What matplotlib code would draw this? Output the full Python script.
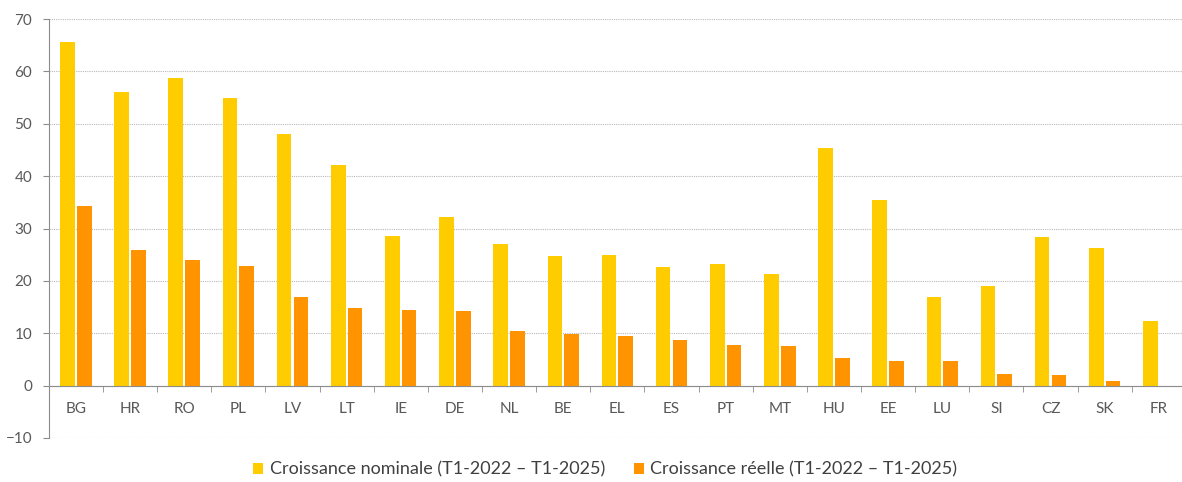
import numpy as np
import matplotlib
matplotlib.use("Agg")
import matplotlib.pyplot as plt
from matplotlib.ticker import FixedLocator, MultipleLocator

# Données
pays = ['BG', 'HR', 'RO', 'PL', 'LV', 'LT', 'IE', 'DE', 'NL', 'BE', 'EL',
        'ES', 'PT', 'MT', 'HU', 'EE', 'LU', 'SI', 'CZ', 'SK', 'FR']
nominale = [65.7, 56.0, 58.8, 55.0, 48.0, 42.2, 28.5, 32.2, 27.1, 24.8, 25.0,
            22.6, 23.2, 21.3, 45.4, 35.5, 16.9, 19.0, 28.4, 26.3, 12.4]
reelle = [34.4, 26.0, 24.0, 22.8, 17.0, 14.8, 14.4, 14.3, 10.4, 9.8, 9.4,
          8.8, 7.8, 7.6, 5.2, 4.8, 4.8, 2.3, 2.0, 0.8, -0.2]

label_nom = "Croissance nominale (T1-2022 \u2013 T1-2025)"
label_reel = "Croissance réelle (T1-2022 \u2013 T1-2025)"

plt.rcParams['font.family'] = ['Lato', 'DejaVu Sans']

gris_texte = '#595959'
gris_axe = '#8c8c8c'

fig = plt.figure(figsize=(11.82, 4.82), dpi=100)
ax = fig.add_axes([0.0413, 0.0913, 0.962, 0.869])

x = np.arange(len(pays))
w = 0.27
ax.bar(x - 0.155, nominale, width=w, color='#FFCC00', label=label_nom, zorder=3)
ax.bar(x + 0.155, reelle, width=w, color='#FF9400', label=label_reel, zorder=3)

ax.set_xlim(-0.5, len(pays) - 0.5)
ax.set_ylim(-10, 70)
ax.yaxis.set_major_locator(MultipleLocator(10))

# grille pointillée
ax.yaxis.grid(True, linestyle=(0, (1, 1)), color='#b8b8b8', lw=0.8, zorder=0)

for s in ['top', 'right']:
    ax.spines[s].set_visible(False)
ax.spines['bottom'].set_position(('data', 0))
ax.spines['bottom'].set_color(gris_axe)
ax.spines['left'].set_color(gris_axe)
ax.spines['bottom'].set_zorder(4)

ax.set_xticks(x)
ax.set_xticklabels(pays)
ax.xaxis.set_minor_locator(FixedLocator(np.arange(0.5, len(pays) - 0.5, 1)))
ax.tick_params(axis='x', which='major', length=0, pad=12, labelsize=11, labelcolor=gris_texte)
ax.tick_params(axis='x', which='minor', length=4, color=gris_axe, direction='out')
ax.tick_params(axis='y', length=4, color=gris_axe, labelsize=11, labelcolor=gris_texte, pad=8)

leg = fig.legend(loc='center', bbox_to_anchor=(0.512, 0.026), ncol=2, frameon=False,
                 fontsize=13, handlelength=0.55, handleheight=0.55, handletextpad=0.35,
                 columnspacing=1.6)
for t in leg.get_texts():
    t.set_color('#404040')

fig.savefig('out.png', dpi=100)
